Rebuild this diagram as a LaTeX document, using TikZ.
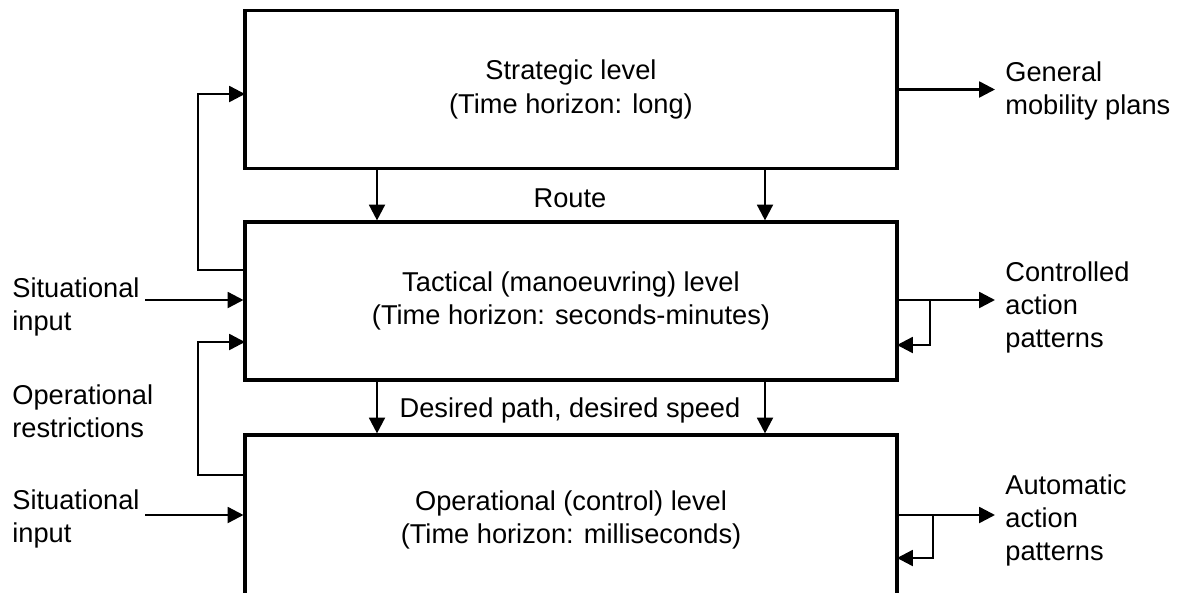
\documentclass[tikz,border=0pt]{standalone}
\usepackage{fontspec}
\setmainfont{Liberation Sans}
\usetikzlibrary{arrows.meta}

\tikzset{
	txt/.style={font=\fontsize{15.5}{19}\selectfont},
	levelbox/.style={txt, draw, line width=1.8pt, minimum width=13.04cm, align=center},
	sidelbl/.style={txt, align=left, anchor=west, inner sep=0pt},
	outlbl/.style={txt, align=left, anchor=west, inner ysep=0pt, inner xsep=0.2cm},
	arr/.style={-{Triangle[length=9pt,width=9pt]}, line width=1.4pt},
}

\begin{document}
\begin{tikzpicture}[x=0.02cm, y=-0.02cm]
		\clip (0,0) rectangle (1183,592);

		% the three levels
		\node[levelbox, minimum height=3.16cm] (S) at (571,89.5) {Strategic level\\(Time horizon: long)};
		\node[levelbox, minimum height=3.16cm] (T) at (571,301) {Tactical (manoeuvring) level\\(Time horizon: seconds-minutes)};
		\node[levelbox, minimum height=3.4cm] (O) at (571,520) {Operational (control) level\\(Time horizon: milliseconds)};

		\node[txt] (route) at (570,198) {Route};
		\node[txt] (path) at (570,410) {Desired path, desired speed};

		% left labels
		\node[sidelbl] (si1) at (12,307) {Situational\\input};
		\node[sidelbl] (rest) at (12,411) {Operational\\restrictions};
		\node[sidelbl] (si2) at (12,519) {Situational\\input};

		% right labels
		\node[outlbl] (gmp) at (995,91) {General\\mobility plans};
		\node[outlbl] (cap) at (995,307.5) {Controlled\\action\\patterns};
		\node[outlbl] (aap) at (995,520.5) {Automatic\\action\\patterns};

		\coordinate (r1) at (377,167);
		\coordinate (r2) at (765,167);
		\coordinate (p1) at (377,380);
		\coordinate (p2) at (765,380);

		\coordinate (sin) at (245,94);
		\coordinate (tl) at (245,270);
		\coordinate (i1) at (145,300);
		\coordinate (tin) at (245,342);
		\coordinate (ol) at (245,475);
		\coordinate (i2) at (145,515);

		\coordinate (tc) at (897,300);
		\coordinate (tb) at (930,300);
		\coordinate (tf) at (897,345);
		\coordinate (oc) at (897,515);
		\coordinate (ob) at (933,515);
		\coordinate (of) at (897,558);

		% between the levels
		\draw[arr] (r1) to (r1 |- T.north);
		\draw[arr] (r2) to (r2 |- T.north);
		\draw[arr] (p1) to (p1 |- O.north);
		\draw[arr] (p2) to (p2 |- O.north);

		% left side
		\draw[arr] (tl) -- ++(-47,0) |- (sin);
		\draw[arr] (ol) -- ++(-47,0) |- (tin);
		\draw[arr] (i1) to (i1 -| T.west);
		\draw[arr] (i2) to (i2 -| O.west);

		% right side
		\draw[arr] (S.east) to (S.east -| gmp.west);
		\draw[arr] (tc) to (tc -| cap.west);
		\draw[arr] (tb) |- (tf);
		\draw[arr] (oc) to (oc -| aap.west);
		\draw[arr] (ob) |- (of);
\end{tikzpicture}
\end{document}
